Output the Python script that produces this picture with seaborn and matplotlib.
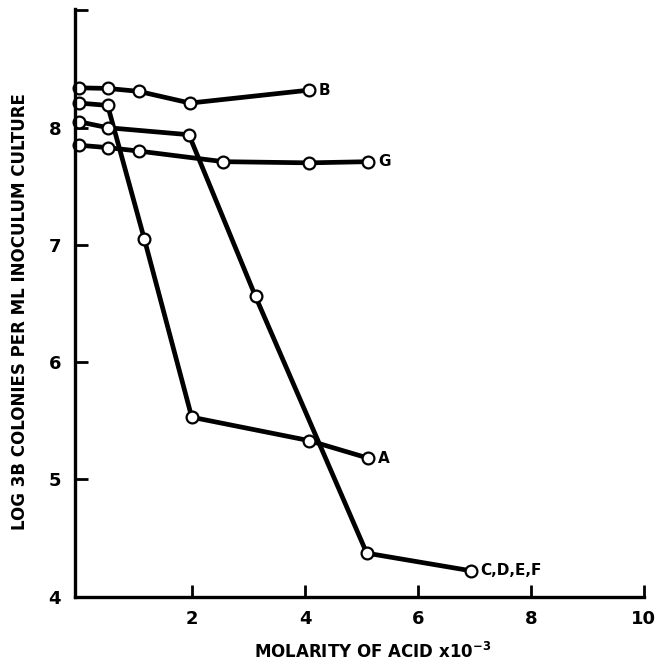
import matplotlib
matplotlib.use('Agg')
import matplotlib.pyplot as plt
import numpy as np
import pandas as pd
import seaborn as sns

# values (molarity x10^-3, log colonies)
b_x = [0, 0.5, 1.05, 1.96, 4.06]
b_y = [8.34, 8.335, 8.31, 8.21, 8.32]

a_x = [0, 0.5, 1.15, 1.99, 4.07, 5.12]
a_y = [8.21, 8.19, 7.05, 5.53, 5.33, 5.18]

cdef_x = [0, 0.5, 1.94, 3.12, 5.09, 6.93]
cdef_y = [8.05, 8.0, 7.94, 6.56, 4.37, 4.22]

g_x = [0, 0.5, 1.06, 2.55, 4.07, 5.12]
g_y = [7.85, 7.83, 7.80, 7.71, 7.70, 7.71]

series_names = ['B', 'A', 'C,D,E,F', 'G']

frames = []
for name, xs, ys in zip(series_names, [b_x, a_x, cdef_x, g_x], [b_y, a_y, cdef_y, g_y]):
    frames.append(pd.DataFrame({'x': xs, 'y': ys, 'curve': name}))
df = pd.concat(frames, ignore_index=True)

sns.set_style('ticks')
plt.rcParams['font.family'] = ['DejaVu Sans']
plt.rcParams['mathtext.default'] = 'bf'
plt.rcParams['text.color'] = 'black'
plt.rcParams['axes.labelcolor'] = 'black'
plt.rcParams['xtick.color'] = 'black'
plt.rcParams['ytick.color'] = 'black'
plt.rcParams['axes.edgecolor'] = 'black'

fig = plt.figure(figsize=(6.57, 6.65), dpi=100)
ax = fig.add_axes([0.114, 0.103, 0.866, 0.883])

for name in series_names:
    sub = df[df['curve'] == name]
    sns.lineplot(data=sub, x='x', y='y', sort=False, ax=ax, color='black', lw=3.4,
                 marker='o', markersize=8.5, markerfacecolor='white',
                 markeredgecolor='black', markeredgewidth=1.6, clip_on=False)
    last = sub.iloc[-1]
    ax.annotate(name, (last['x'], last['y']), xytext=(7, 0), textcoords='offset points',
                va='center', ha='left', fontsize=11, fontweight='bold', color='black')

ax.set_xlim(-0.08, 10)
ax.set_ylim(4, 9.01)
ax.set_xticks([2, 4, 6, 8, 10])
ax.set_xticklabels(['2', '4', '6', '8', '10'])
ax.set_yticks([4, 5, 6, 7, 8, 9])
ax.set_yticklabels(['4', '5', '6', '7', '8', ''])
ax.tick_params(direction='in', length=9, width=2, labelsize=13, pad=10)
for lab in ax.get_xticklabels() + ax.get_yticklabels():
    lab.set_fontweight('bold')

sns.despine(ax=ax)
ax.spines['left'].set_linewidth(2.4)
ax.spines['bottom'].set_linewidth(2.4)

ax.set_xlabel('MOLARITY OF ACID x10$^{-3}$', fontsize=12, fontweight='bold')
ax.set_ylabel('LOG 3B COLONIES PER ML INOCULUM CULTURE', fontsize=12, fontweight='bold')
ax.xaxis.set_label_coords(0.524, -0.078)
ax.yaxis.set_label_coords(-0.08, 0.485)

fig.savefig('out.png', dpi=100)
